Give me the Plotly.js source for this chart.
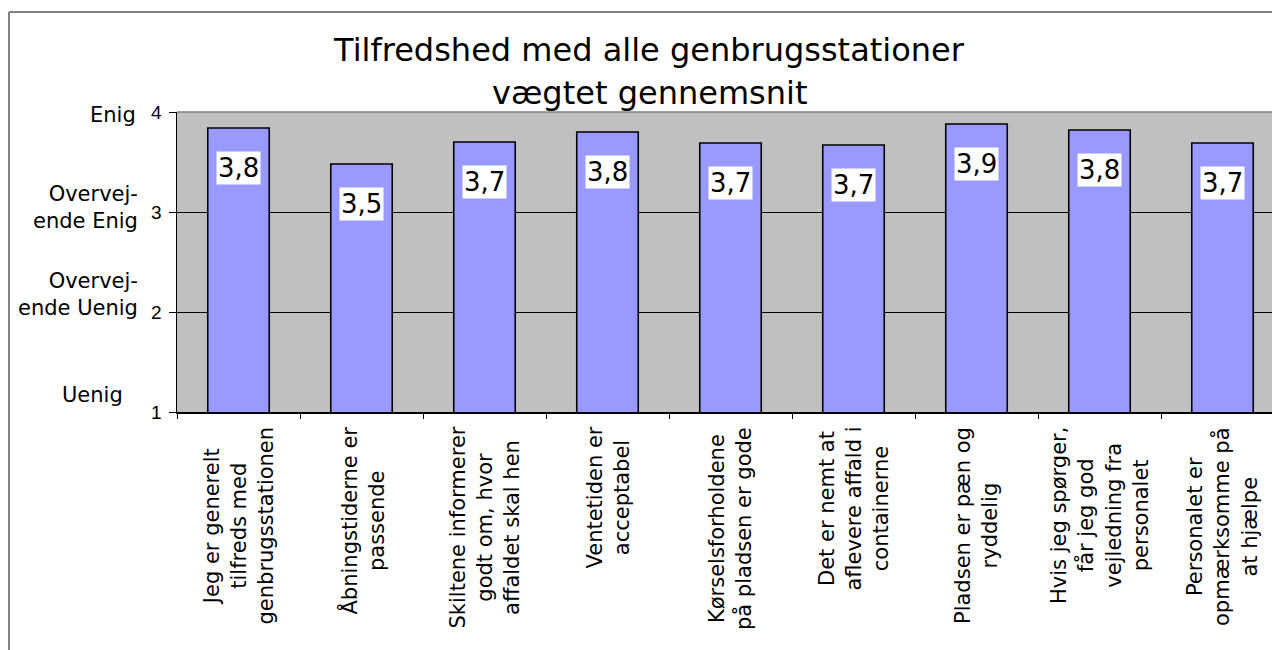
<!DOCTYPE html>
<html>
<head>
<meta charset="utf-8">
<script src="https://cdn.plot.ly/plotly-3.0.1.min.js"></script>
<style>
  html, body { margin: 0; padding: 0; overflow: hidden; background: #fff; }
  #chart { width: 1290px; height: 650px; }
</style>
</head>
<body>
<div id="chart"></div>
<script>
// ---- data ----
const categories = [
  "Jeg er generelt<br>tilfreds med<br>genbrugsstationen",
  "Åbningstiderne er<br>passende",
  "Skiltene informerer<br>godt om, hvor<br>affaldet skal hen",
  "Ventetiden er<br>acceptabel",
  "Kørselsforholdene<br>på pladsen er gode",
  "Det er nemt at<br>aflevere affald i<br>containerne",
  "Pladsen er pæn og<br>ryddelig",
  "Hvis jeg spørger,<br>får jeg god<br>vejledning fra<br>personalet",
  "Personalet er<br>opmærksomme på<br>at hjælpe"
];
const values = [3.84, 3.48, 3.70, 3.80, 3.69, 3.67, 3.88, 3.82, 3.69];
const yTickVals = [1, 2, 3, 4];
const yTickText = ["1", "2", "3", "4"];
const scaleLabels = ["Enig", "Overvej-<br>ende Enig", "Overvej-<br>ende Uenig", "Uenig"];
const titleText = "Tilfredshed med alle genbrugsstationer";
const subtitleText = "vægtet gennemsnit";

// ---- layout constants ----
const W = 1290, H = 650, ML = 177, MR = 6, MT = 112, MB = 238;
const PW = W - ML - MR, PH = H - MT - MB;
const px2x = X => (X - ML) / PW;
const px2y = Y => (H - MB - Y) / PH;

const fontMain = "DejaVu Sans, Verdana, sans-serif";
const titleFont = { family: "DejaVu Sans, Verdana, sans-serif", size: 32, color: "#000" };

const annotations = [];
// second title line
annotations.push({
  x: px2x(649), y: px2y(72), xref: "paper", yref: "paper",
  text: subtitleText, showarrow: false, xanchor: "center", yanchor: "top",
  borderpad: 1, font: titleFont
});
// value labels
values.forEach((v, i) => {
  annotations.push({
    x: categories[i], y: v, xref: "x", yref: "y",
    text: v.toFixed(1).replace(".", ","),
    showarrow: false, xanchor: "center", yanchor: "middle", yshift: -40,
    bgcolor: "#ffffff", borderpad: 1,
    font: { family: fontMain, size: 26, color: "#000" }
  });
});
// category labels (rotated)
categories.forEach((c, i) => {
  annotations.push({
    x: c, y: 0, xref: "x", yref: "paper",
    text: c, textangle: -90, showarrow: false,
    xanchor: "center", yanchor: "top", yshift: -13, align: "center",
    font: { family: fontMain, size: 21, color: "#000" }
  });
});
// scale word labels on the left
const scalePos = [
  { y: 3.97, right: 138 },
  { y: 3.05, right: 140 },
  { y: 2.18, right: 140 },
  { y: 1.17, right: 125 }
];
scaleLabels.forEach((t, i) => {
  annotations.push({
    x: 0, y: scalePos[i].y, xref: "paper", yref: "y",
    text: t, showarrow: false, xanchor: "right", yanchor: "middle",
    xshift: scalePos[i].right - ML, align: "right",
    font: { family: fontMain, size: 21, color: "#000" }
  });
});

const trace = {
  type: "bar",
  x: categories,
  y: values,
  base: 0,
  marker: { color: "#9999FF", line: { color: "#000000", width: 1.6 } },
  hoverinfo: "skip"
};

const layout = {
  width: W, height: H,
  margin: { l: ML, r: MR, t: MT, b: MB, pad: 0 },
  paper_bgcolor: "#ffffff",
  plot_bgcolor: "#C0C0C0",
  showlegend: false,
  bargap: 0.5,
  title: {
    text: titleText,
    font: titleFont,
    xref: "container", x: 649 / W, xanchor: "center",
    yref: "container", y: 1 - 39 / H, yanchor: "top"
  },
  xaxis: {
    type: "category",
    range: [-0.5, categories.length - 0.5],
    showticklabels: false,
    ticks: "outside", tickson: "boundaries", ticklen: 5, tickwidth: 1, tickcolor: "#000",
    showline: true, linecolor: "#000", linewidth: 1.5,
    showgrid: false, zeroline: false, fixedrange: true
  },
  yaxis: {
    range: [1, 4],
    tickvals: yTickVals, ticktext: yTickText,
    ticks: "outside", ticklen: 7, tickwidth: 1, tickcolor: "#000",
    ticklabelstandoff: 3,
    tickfont: { family: "Liberation Sans, Arial, sans-serif", size: 19, color: "#000" },
    showline: true, linecolor: "#000", linewidth: 1.5,
    showgrid: true, gridcolor: "#000", gridwidth: 1,
    zeroline: false, fixedrange: true
  },
  shapes: [
    // plot area top border (grey)
    { type: "line", xref: "paper", yref: "paper", x0: 0, x1: 1.02, y0: 1, y1: 1,
      line: { color: "#808080", width: 1.5 }, layer: "above" },
    // outer chart frame: top and left
    { type: "line", xref: "paper", yref: "paper", x0: px2x(9), x1: 1.05, y0: px2y(12), y1: px2y(12),
      line: { color: "#808080", width: 2 } },
    { type: "line", xref: "paper", yref: "paper", x0: px2x(9), x1: px2x(9), y0: px2y(12), y1: px2y(700),
      line: { color: "#808080", width: 2 } }
  ],
  annotations: annotations
};

Plotly.newPlot("chart", [trace], layout, { displayModeBar: false, staticPlot: true });
</script>
</body>
</html>
